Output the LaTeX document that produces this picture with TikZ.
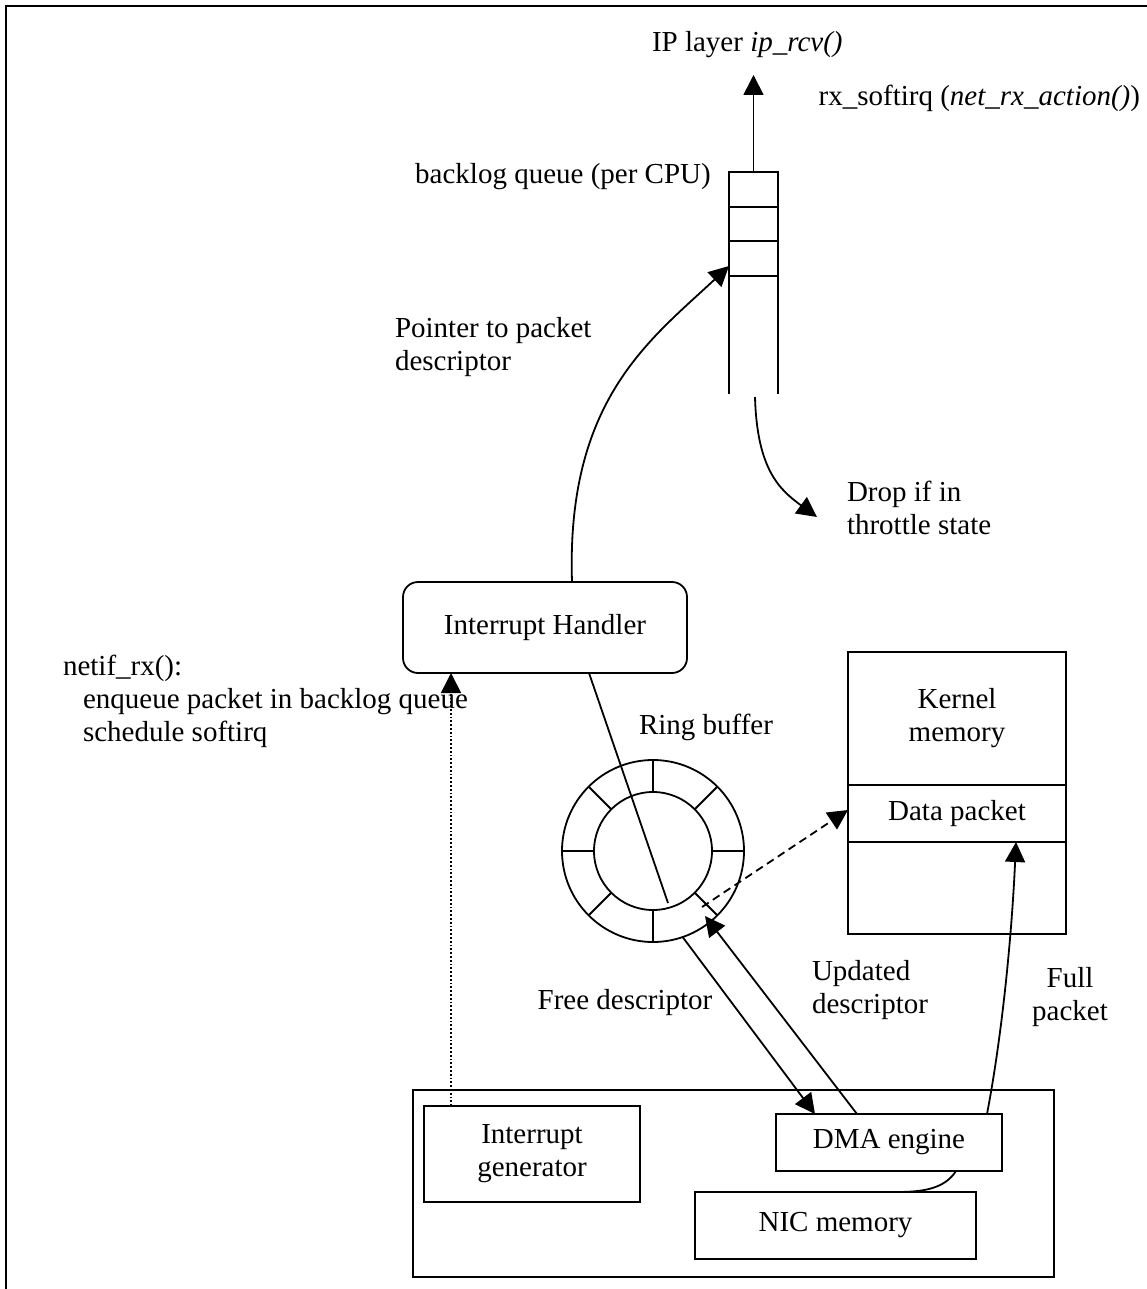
\documentclass[tikz,border=0pt]{standalone}
\usepackage{fontspec}
\setmainfont{Liberation Serif}
\usetikzlibrary{arrows.meta,calc}
\begin{document}
\begin{tikzpicture}[x=1pt,y=-1pt,
  every node/.style={font=\fontsize{29}{33}\selectfont, inner sep=0pt, outer sep=0pt},
  box/.style={draw, line width=1.8pt},
  ln/.style={line width=1.8pt},
  arr/.style={line width=1.8pt, -{Triangle[length=20pt,width=20pt]}},
  ]
\useasboundingbox (0,0) rectangle (1147,1289);
\draw[line width=2.2pt] (6,1289) -- (6,6) -- (1147,6);

% backlog queue
\coordinate (qtl) at (729,172);
\coordinate (qtr) at (778,172);
\draw[ln] (729,394) -- (qtl) -- (qtr) -- (778,394);
\foreach \yy in {207,241,276} \draw[ln] (729,\yy) -- (778,\yy);
\coordinate (qtop) at (753.5,172);
\coordinate (qin) at (729,266);
\coordinate (qbot) at (755,397);

% top texts
\node[anchor=west] (ip) at (652,45) {IP layer \textit{ip\_rcv()}};
\coordinate (ipin) at (753.5,75);
\draw[arr] (qtop) -- (ipin);
\node[anchor=east] (soft) at (1140,98) {rx\_softirq (\textit{net\_rx\_action()})};
\node (blq) at (563,177) {backlog queue (per CPU)};
\node[anchor=west, align=left] (ptr) at (395,347) {Pointer to packet\\descriptor};
\node[anchor=west, align=left] (drop) at (847,508) {Drop if in\\throttle state};
\coordinate (dropin) at (817,517);
\draw[arr] (qbot) .. controls (757,470) and (780,490) .. (dropin);

% interrupt handler
\node[box, rounded corners=15pt, minimum width=284pt, minimum height=91pt] (ih) at (545,627.5) {Interrupt Handler};
\draw[arr] ([xshift=27pt]ih.north) .. controls (566,400) and (650,340) .. (qin);

\node[anchor=west, align=left] (netif) at (63,701) {netif\_rx():\\\hspace*{20pt}enqueue packet in backlog queue\\\hspace*{20pt}schedule softirq};

% ring buffer
\node[circle, draw, ln, minimum size=182pt] (ring) at (653,851) {};
\node[circle, draw, ln, minimum size=118pt] (ringin) at (653,851) {};
\foreach \a in {0,45,...,315} \draw[ln] (ringin.\a) -- (ring.\a);
\node (rbl) at (706,727) {Ring buffer};
\draw[ln] ([xshift=44pt]ih.south) -- ($(ring)+(15,52)$);

% kernel memory
\node[box, minimum width=218pt, minimum height=282pt] (kmem) at (957,793) {};
\node[align=center] (kmtxt) at (957,718.5) {Kernel\\memory};
\node[box, minimum width=218pt, minimum height=57pt] (dpkt) at (957,813.5) {Data packet};
\draw[arr, dash pattern=on 8pt off 5pt] ($(ring)+(49,56)$) -- ([yshift=3.5pt]dpkt.west);

% NIC
\node[box, minimum width=641pt, minimum height=187pt] (nic) at (733.5,1183.5) {};
\node[box, align=center, minimum width=216pt, minimum height=96pt] (igen) at (532,1154) {Interrupt\\generator};
\node[box, minimum width=226pt, minimum height=57pt] (dma) at (889,1142.5) {DMA engine};
\node[box, minimum width=281pt, minimum height=67pt] (nmem) at (835.5,1225.5) {NIC memory};

\draw[arr, dotted] ([xshift=-81pt]igen.north) -- ([xshift=-94pt]ih.south);
\draw[arr] (ring.-71) -- ([xshift=-74pt]dma.north);
\draw[arr] ([xshift=-32pt]dma.north) -- ($(ring)+(52,65)$);
\draw[arr] ([xshift=98pt]dma.north) .. controls (1003,1030) and (1012,930) .. ([xshift=59pt]dpkt.south);
\draw[ln] ([xshift=67pt]dma.south) .. controls (945,1188) and (925,1192) .. ([xshift=61.5pt]nmem.north);

\node (free) at (625,1003) {Free descriptor};
\node[anchor=west, align=left] (upd) at (812,990) {Updated\\descriptor};
\node[align=center] (full) at (1070,997) {Full\\packet};
\end{tikzpicture}
\end{document}
